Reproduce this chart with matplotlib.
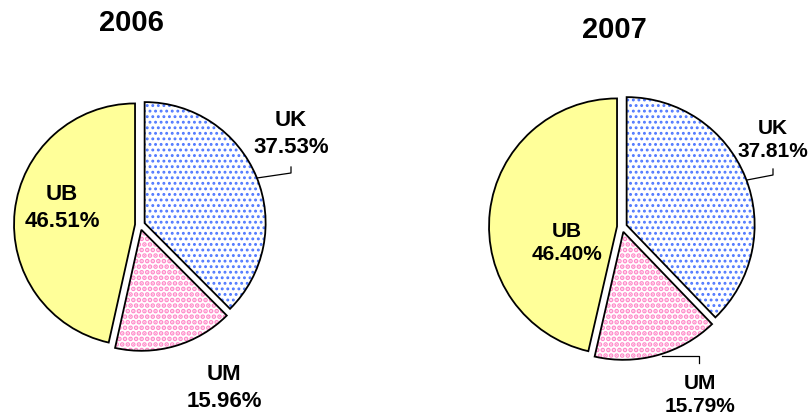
import matplotlib
matplotlib.use("Agg")
import matplotlib.pyplot as plt

plt.rcParams['font.family'] = ['Liberation Sans', 'DejaVu Sans']
plt.rcParams['hatch.linewidth'] = 1.3

# dati
anni = ["2006", "2007"]
categorie = ["UK", "UM", "UB"]
quote_2006 = [37.53, 15.96, 46.51]
quote_2007 = [37.81, 15.79, 46.40]

W, H = 812, 418
fig = plt.figure(figsize=(W / 100, H / 100), dpi=100)
ax = fig.add_axes([0, 0, 1, 1])

riempimento = ["white", "white", "#FFFF99"]
tratteggio = ["...", "...", None]
colore_tratt = ["#4F78FF", "#FF88C8", "#FFFF99"]
spessore_tratt = [1.3, 2.4, 1.0]

# centro (px), raggio (px), posizione titolo, posizioni etichette, linee guida
pies = [
    dict(valori=quote_2006, centro=(140, 225), raggio=121, titolo=(131, 23), fs=16, ls=1.35,
         etichette=[(291, 134), (224, 388), (62, 208)],
         linee=[[(257, 178), (291, 173), (291, 167)]]),
    dict(valori=quote_2007, centro=(622, 227), raggio=128, titolo=(614, 30), fs=15, ls=1.3,
         etichette=[(773, 140), (700, 395), (567, 243)],
         linee=[[(747, 180), (773, 175), (773, 169)],
                [(662, 356), (699, 356), (699, 363)]]),
]

for anno, p in zip(anni, pies):
    cx, cy = p["centro"]
    centro = (cx, H - cy)
    esplosione = [5] * len(p["valori"])
    # primo strato: riempimento e puntini colorati
    wedges, _ = ax.pie(p["valori"], startangle=90, counterclock=False,
                       explode=esplosione, center=centro, radius=p["raggio"],
                       wedgeprops=dict(linewidth=0))
    for w, fc, h, hc, lw in zip(wedges, riempimento, tratteggio, colore_tratt, spessore_tratt):
        w.set_facecolor(fc)
        w.set_edgecolor(hc)
        if h:
            w.set_hatch(h)
        if hasattr(w, "set_hatch_linewidth"):
            w.set_hatch_linewidth(lw)
    # secondo strato: bordo nero
    ax.pie(p["valori"], startangle=90, counterclock=False,
           explode=esplosione, center=centro, radius=p["raggio"],
           wedgeprops=dict(fill=False, edgecolor="black", linewidth=1.3))

    tx, ty = p["titolo"]
    ax.text(tx, H - ty, anno, fontsize=21, fontweight="bold", ha="center", va="center")

    for cat, val, (lx, ly) in zip(categorie, p["valori"], p["etichette"]):
        ax.text(lx, H - ly, f"{cat}\n{val:.2f}%", fontsize=p["fs"], fontweight="bold",
                ha="center", va="center", linespacing=p["ls"])

    for linea in p["linee"]:
        xs = [q[0] for q in linea]
        ys = [H - q[1] for q in linea]
        ax.plot(xs, ys, color="black", linewidth=0.9)

ax.set_xlim(0, W)
ax.set_ylim(0, H)
ax.set_aspect("auto")
ax.axis("off")

fig.savefig("out.png", dpi=100)
